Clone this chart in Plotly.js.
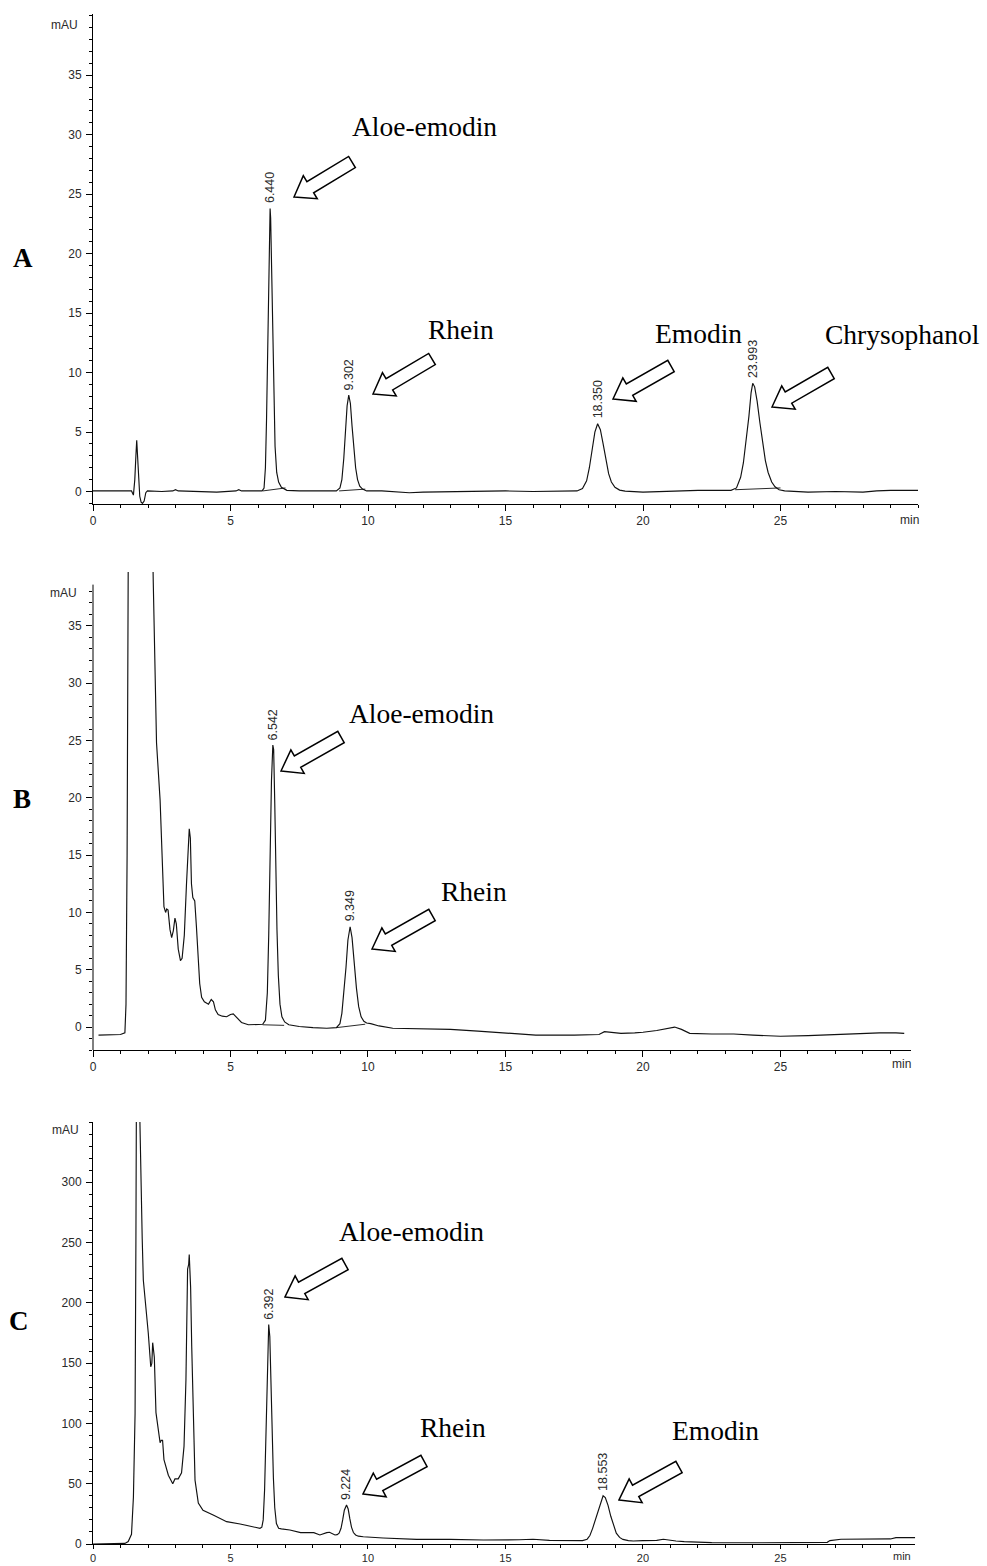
<!DOCTYPE html>
<html><head><meta charset="utf-8">
<script src="https://cdn.plot.ly/plotly-3.0.1.min.js"></script>
<style>html,body{margin:0;padding:0;background:#fff}#chart{width:987px;height:1566px}</style>
</head><body><div id="chart"></div>
<script>
// ---------- DATA ----------
// Panel A: standard mixture, time (min) and absorbance (mAU)
const timeA = [0.00,0.50,1.00,1.40,1.47,1.52,1.56,1.59,1.62,1.66,1.70,1.75,1.80,1.86,1.92,1.98,2.5,2.9,3.0,3.1,3.6,4.5,5.2,5.3,5.4,6.0,
  6.15,6.22,6.27,6.31,6.35,6.39,6.42,6.44,6.46,6.49,6.53,6.57,6.62,6.68,6.75,6.85,6.95,7.05,7.5,8.0,8.5,
  8.85,8.98,9.05,9.12,9.18,9.24,9.30,9.36,9.42,9.48,9.55,9.62,9.70,9.80,9.95,10.5,11.0,11.5,12.0,13.0,14.0,15.0,16.0,17.0,
  17.6,17.8,17.95,18.05,18.15,18.25,18.35,18.45,18.55,18.65,18.75,18.85,18.98,19.15,19.35,20.0,21.0,22.0,23.0,
  23.2,23.4,23.55,23.65,23.75,23.85,23.93,23.99,24.06,24.15,24.25,24.35,24.45,24.55,24.68,24.8,24.95,25.15,26.0,27.0,28.0,28.5,29.0,30.0];
const absA = [0.05,0.05,0.03,0.05,-0.3,1.0,3.0,4.3,3.0,0.8,-0.4,-0.9,-1.0,-0.8,-0.1,0.05,0.0,0.05,0.15,0.05,0.0,-0.05,0.05,0.15,0.05,0.05,
  0.05,0.3,2.0,6.0,12.5,19.0,22.8,23.8,23.0,19.5,13.0,7.5,3.8,1.6,0.8,0.35,0.2,0.1,0.05,0.05,0.05,
  0.05,0.3,1.0,2.8,5.0,7.2,8.1,7.4,5.5,3.5,2.0,1.0,0.45,0.2,0.05,0.05,0.0,-0.1,-0.05,0.0,0.05,0.05,0.0,0.0,
  0.05,0.25,0.9,2.0,3.5,5.0,5.7,5.2,4.0,2.6,1.5,0.8,0.35,0.12,0.03,-0.05,0.05,0.1,0.1,
  0.1,0.3,1.2,2.4,4.2,6.3,8.3,9.1,8.8,7.6,5.8,4.0,2.6,1.6,0.8,0.4,0.15,0.05,-0.05,0.0,-0.05,0.05,0.1,0.1];
// integration baselines drawn under the peaks (start/end pairs, null separated)
const baseTimeA = [6.18,7.0,null,8.95,9.9,null,23.35,25.0];
const baseAbsA  = [0.05,0.3,null,0.05,0.2,null,0.15,0.3];
const rtLabelsA = ['6.440','9.302','18.350','23.993'];
const compoundsA = ['Aloe-emodin','Rhein','Emodin','Chrysophanol'];

// Panel B: sample 1
const timeB = [0.2,0.6,1.0,1.16,1.2,1.24,1.28,1.35,2.15,2.19,2.25,2.31,2.44,2.52,2.58,2.64,2.68,2.73,2.80,2.86,2.92,2.98,3.03,3.10,3.18,3.24,3.32,3.40,3.46,3.50,3.54,3.58,3.63,3.70,3.76,3.83,3.88,3.95,4.05,4.2,4.3,4.38,4.45,4.55,4.7,4.86,5.0,5.1,5.25,5.4,5.65,6.0,
  6.17,6.27,6.34,6.39,6.44,6.49,6.54,6.57,6.61,6.65,6.69,6.74,6.80,6.87,6.97,7.12,7.5,8.0,8.5,
  8.85,8.98,9.05,9.12,9.20,9.27,9.35,9.42,9.50,9.58,9.66,9.75,9.85,9.95,10.1,10.4,10.9,11.7,13.0,14.0,14.8,16.1,17.5,18.4,18.6,18.8,19.2,19.7,20.0,20.5,20.9,21.15,21.4,21.7,22.5,23.3,24.0,25.0,26.0,26.5,27.5,28.6,29.2,29.5];
const absB = [-0.7,-0.7,-0.65,-0.5,2,15,40,45,45,39,32,24.8,19.8,14.6,10.5,10.0,10.3,10.2,8.5,7.8,8.4,9.5,9.0,6.8,5.8,6.0,8.0,12.5,15.5,17.3,16.5,12.5,11.3,11.0,8.8,6.0,3.8,2.6,2.2,2.0,2.4,2.2,1.5,1.1,0.95,0.9,1.1,1.15,0.8,0.4,0.2,0.2,
  0.25,0.6,3,8,15,21.5,24.6,24.2,19.5,13.5,8.5,4.5,2.0,0.9,0.45,0.2,0.05,-0.05,-0.1,
  -0.05,0.3,1.2,2.8,5.2,7.6,8.75,7.8,5.5,3.4,1.8,0.9,0.5,0.35,0.3,0.1,-0.1,-0.15,-0.2,-0.35,-0.5,-0.7,-0.7,-0.65,-0.4,-0.45,-0.55,-0.5,-0.45,-0.3,-0.1,0.0,-0.2,-0.55,-0.6,-0.6,-0.7,-0.8,-0.75,-0.7,-0.6,-0.5,-0.5,-0.55];
const baseTimeB = [6.17,6.95,null,8.85,9.9];
const baseAbsB  = [0.2,0.15,null,-0.05,0.25];
const rtLabelsB = ['6.542','9.349'];
const compoundsB = ['Aloe-emodin','Rhein'];

// Panel C: sample 2
const timeC = [0.0,0.6,1.16,1.28,1.40,1.47,1.53,1.56,1.58,1.68,1.71,1.73,1.79,1.83,1.93,2.01,2.10,2.14,2.17,2.20,2.23,2.29,2.37,2.44,2.48,2.53,2.58,2.74,2.90,2.98,3.10,3.22,3.31,3.38,3.44,3.48,3.50,3.53,3.55,3.59,3.65,3.71,3.83,4.00,4.37,4.86,5.35,5.83,6.07,
  6.14,6.19,6.24,6.29,6.34,6.39,6.43,6.47,6.51,6.56,6.61,6.67,6.75,6.85,7.16,7.55,8.03,8.25,8.5,8.6,8.8,
  8.88,8.95,9.02,9.08,9.14,9.22,9.28,9.34,9.40,9.47,9.55,9.65,9.83,10.55,11.77,12.98,14.2,15.5,16.0,16.6,17.8,
  17.97,18.07,18.17,18.27,18.37,18.47,18.55,18.63,18.73,18.83,18.93,19.03,19.15,19.27,19.47,19.65,20.0,20.5,20.74,20.9,21.2,21.5,22.5,24.0,25.5,26.7,26.8,27.2,29.0,29.2,29.9];
const absC = [0,0,0.5,2,8,39,108,250,380,380,345,302,253,219,197,175,147,150,167,162,155,109,93,84,86,86,70,57,50,54,54,59,81,136,228,232,240,225,213,164,95,53,34,28,24,18.5,16.6,14.4,13,
  14,20,45,90,150,182,172,130,90,55,30,17,13,12.5,11.6,9.4,9.4,7.5,9.4,9.7,7.5,
  7.8,9,13,20,28,32.4,29,21,14,9.5,7.5,6.5,6,5,3.9,3.9,3.3,3.5,3.9,3.0,2.8,
  4,7,13,20,29,36,40,38.5,32,23,15,9,5.5,3.8,2.8,2.5,2.8,3.0,3.9,3.3,2.5,2,1.1,1.0,1.0,1.4,2.8,3.9,4.2,5.3,5.3];
const rtLabelsC = ['6.392','9.224','18.553'];
const compoundsC = ['Aloe-emodin','Rhein','Emodin'];

const panelLetters = ['A','B','C'];
const xTickVals = [0,5,10,15,20,25];
const yTickValsAB = [0,5,10,15,20,25,30,35];
const yTickValsC = [0,50,100,150,200,250,300];
const xUnit = 'min', yUnit = 'mAU';

// ---------- LAYOUT HELPERS ----------
const W = 987, H = 1566;
const fx = p => p / W, fy = p => 1 - p / H;
const tickFont = {family:'Liberation Sans, Arial, sans-serif', size:12, color:'#2a2a2a'};
const smallTickFont = {family:'Liberation Sans, Arial, sans-serif', size:11, color:'#2a2a2a'};
const serif = 'Liberation Serif, Times New Roman, serif';
const ink = '#111';

function intRange(a, b, step){ const r=[]; for(let v=a; v<=b+1e-9; v+=step) r.push(+v.toFixed(6)); return r; }

function xAxis(pxL, pxR, range, anchor, minorMax, tlen, tfont){
  return {domain:[fx(pxL), fx(pxR)], range, anchor, showline:true, linecolor:'#000', linewidth:1,
    ticks:'outside', ticklen:tlen, tickwidth:1, tickcolor:'#000', tickmode:'array', tickvals:xTickVals,
    ticktext:xTickVals.map(String), tickfont:tfont, showgrid:false, zeroline:false, fixedrange:true,
    minor:{ticks:'outside', ticklen:3, tickwidth:1, tickcolor:'#000', tickmode:'array', tickvals:intRange(0, minorMax, 1)}};
}
function yAxis(pxBottom, pxTop, range, anchor, majors, minorVals, showline){
  return {domain:[fy(pxBottom), fy(pxTop)], range, anchor, showline, linecolor:'#000', linewidth:1,
    ticks:'outside', ticklen:6, tickwidth:1, tickcolor:'#000', tickmode:'array', tickvals:majors,
    ticktext:majors.map(String), tickfont:tickFont, ticklabelstandoff:2, showgrid:false, zeroline:false, fixedrange:true,
    minor:{ticks:'outside', ticklen:3, tickwidth:1, tickcolor:'#000', tickmode:'array', tickvals:minorVals}};
}

function arrowPath(tip, tail){
  const dx = tail[0]-tip[0], dy = tail[1]-tip[1], L = Math.hypot(dx, dy);
  const ux = dx/L, uy = dy/L, nx = -uy, ny = ux;
  const Lh = 19, Wh = 13.5, Ws = 6.5;
  const pts = [[0,0],[Lh,Wh],[Lh,Ws],[L,Ws],[L,-Ws],[Lh,-Ws],[Lh,-Wh]]
    .map(([s,t]) => [tip[0]+s*ux+t*nx, tip[1]+s*uy+t*ny]);
  return 'M' + pts.map(p => fx(p[0]).toFixed(5)+','+fy(p[1]).toFixed(5)).join(' L') + ' Z';
}

function peakHeight(times, vals, rt){
  let m = -Infinity;
  times.forEach((t,i) => { if (Math.abs(t-rt) <= 0.2 && vals[i] > m) m = vals[i]; });
  return m;
}

// ---------- TRACES ----------
const line = {color:ink, width:1.15};
const traces = [
  {x:timeA, y:absA, xaxis:'x', yaxis:'y', mode:'lines', line, hoverinfo:'skip'},
  {x:baseTimeA, y:baseAbsA, xaxis:'x', yaxis:'y', mode:'lines', line:{color:ink, width:0.9}, connectgaps:false, hoverinfo:'skip'},
  {x:timeB, y:absB, xaxis:'x2', yaxis:'y2', mode:'lines', line, hoverinfo:'skip'},
  {x:baseTimeB, y:baseAbsB, xaxis:'x2', yaxis:'y2', mode:'lines', line:{color:ink, width:0.9}, connectgaps:false, hoverinfo:'skip'},
  {x:timeC, y:absC, xaxis:'x3', yaxis:'y3', mode:'lines', line, hoverinfo:'skip'}
];

// ---------- ANNOTATIONS ----------
const annotations = [];
function rtLabels(labels, times, vals, xr, yr){
  labels.forEach(l => {
    const rt = parseFloat(l);
    annotations.push({xref:xr, yref:yr, x:rt, y:peakHeight(times, vals, rt), text:l, textangle:-90,
      xanchor:'center', yanchor:'bottom', yshift:3, showarrow:false,
      font:{family:'Liberation Sans, Arial, sans-serif', size:12.5, color:'#2a2a2a'}});
  });
}
rtLabels(rtLabelsA, timeA, absA, 'x', 'y');
rtLabels(rtLabelsB, timeB, absB, 'x2', 'y2');
rtLabels(rtLabelsC, timeC, absC, 'x3', 'y3');

// compound names (pixel centers in the figure)
const namePos = {
  A:[[424,126],[461,329],[698,333],[902,334]],
  B:[[421,713],[474,891]],
  C:[[411,1231],[453,1427],[715,1430]]
};
[[compoundsA,'A'],[compoundsB,'B'],[compoundsC,'C']].forEach(([names,k]) => {
  names.forEach((n,i) => annotations.push({xref:'paper', yref:'paper', x:fx(namePos[k][i][0]), y:fy(namePos[k][i][1]),
    text:n, showarrow:false, xanchor:'center', yanchor:'middle', font:{family:serif, size:27.5, color:'#000'}}));
});

// panel letters
const letterPos = [[23,258],[22,799],[19,1321]];
panelLetters.forEach((L,i) => annotations.push({xref:'paper', yref:'paper', x:fx(letterPos[i][0]), y:fy(letterPos[i][1]),
  text:'<b>'+L+'</b>', showarrow:false, xanchor:'center', yanchor:'middle', font:{family:serif, size:27, color:'#000'}}));

// unit labels
const mauPos = [[80,25],[79,593],[81,1130]];
mauPos.forEach(p => annotations.push({xref:'paper', yref:'paper', x:fx(p[0]), y:fy(p[1]), text:yUnit, showarrow:false,
  xanchor:'right', yanchor:'middle', font:tickFont}));
const minPos = [[909,520],[901,1064],[902,1556]];
minPos.forEach((p,i) => annotations.push({xref:'paper', yref:'paper', x:fx(p[0]), y:fy(p[1]), text:xUnit, showarrow:false,
  xanchor:'center', yanchor:'middle', font: i === 2 ? smallTickFont : tickFont}));

// ---------- SHAPES: hollow block arrows + panel B axis line ----------
const arrows = [
  [[294,197],[352,162]], [[373,394],[432,359]], [[613,399],[671,366]], [[772,407],[831,373]],
  [[281,771],[341,737]], [[372,949],[432,915]],
  [[285,1297],[345,1264]], [[363,1494],[424,1461]], [[619,1500],[679,1467]]
];
const shapes = arrows.map(([tip, tail]) => ({type:'path', xref:'paper', yref:'paper', path:arrowPath(tip, tail),
  fillcolor:'#fff', line:{color:'#000', width:1.5}}));
shapes.push({type:'line', xref:'paper', yref:'y2', x0:fx(93), x1:fx(93), y0:-2, y1:38.6, line:{color:'#000', width:1}});

// ---------- LAYOUT ----------
const layout = {
  width:W, height:H, margin:{l:0, r:0, t:0, b:0}, showlegend:false,
  paper_bgcolor:'#fff', plot_bgcolor:'rgba(0,0,0,0)',
  xaxis: xAxis(93, 918, [0, 30], 'y', 30, 6, tickFont),
  yaxis: yAxis(504, 14, [-1.05, 40.15], 'x', yTickValsAB, intRange(-1, 40, 1), true),
  xaxis2: xAxis(93, 911.1, [0, 29.75], 'y2', 29, 6, tickFont),
  yaxis2: yAxis(1050, 572, [-2, 39.7], 'x2', yTickValsAB, intRange(-2, 38, 1), false),
  xaxis3: xAxis(93, 915.2, [0, 29.9], 'y3', 29, 4, smallTickFont),
  yaxis3: yAxis(1544, 1122, [0, 350], 'x3', yTickValsC, intRange(0, 350, 10), true),
  annotations, shapes
};

Plotly.newPlot('chart', traces, layout, {staticPlot:true, displayModeBar:false});
</script>
</body></html>
